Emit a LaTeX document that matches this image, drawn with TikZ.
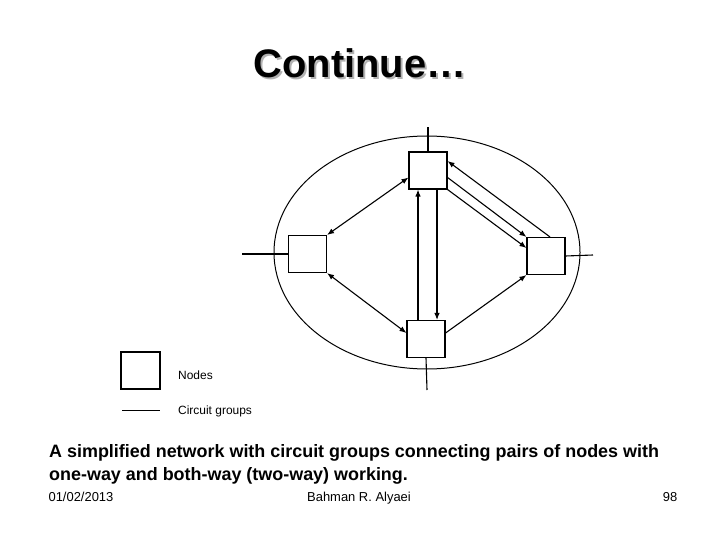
\documentclass[tikz,border=0pt]{standalone}
\usepackage{fontspec}
\setmainfont{Liberation Sans}
\usetikzlibrary{calc,arrows.meta}
\begin{document}
\begin{tikzpicture}[x=1bp,y=-1bp,
  nbox/.style={draw,line width=1.1bp,minimum width=38bp,minimum height=37bp,inner sep=0pt},
  link/.style={line width=1.1bp},
  tip/.style={-{Latex[length=7bp,width=5.5bp]}},
  both/.style={{Latex[length=7bp,width=5.5bp]}-{Latex[length=7bp,width=5.5bp]}},
  caption/.style={font=\fontsize{18}{22}\selectfont\bfseries,anchor=base west,inner sep=0pt},
  foot/.style={font=\fontsize{13}{15}\selectfont,anchor=base,inner sep=0pt}]
\useasboundingbox (0,0) rectangle (720,540);
% title with shadow
\node[font=\fontsize{40}{44}\selectfont\bfseries,anchor=base,inner sep=0pt] (title) at (360,78)
  {\rlap{\kern2bp\raisebox{-2bp}{\color{black!30}Continue…}}Continue…};
% ellipse
\draw[line width=1bp] (427,252.5) ellipse [x radius=153, y radius=116.5];
% nodes
\node[nbox] (T) at (428,170.5) {};
\node[nbox] (L) at (307.5,254) {};
\node[nbox] (R) at (546,256) {};
\node[nbox] (B) at (426,339) {};
% stubs
\coordinate (st) at (428,127);
\coordinate (sb) at (427,390);
\coordinate (sl) at (242,254);
\coordinate (sr) at (593,255);
\draw[link] (T.north) -- (st);
\draw[link] (B.south) -- (sb);
\draw[link] (L.west) -- (sl);
\draw[link] (R.east) -- (sr);
% helper coordinates for the vertical pair
\path ($(T.south)+(-10,0)$) coordinate (u1) ($(T.south)+(9,0)$) coordinate (d1);
% circuit groups
\draw[link,both] ($(T.west)+(0,7)$) -- (L.north east);
\draw[link,both] (L.south east) -- ($(B.west)+(0,-6)$);
\draw[link,tip] (u1 |- B.north) -- (u1);
\draw[link,tip] (d1) -- (d1 |- B.north);
\draw[link,tip] ($(B.east)+(0,-6)$) -- (R.south west);
\draw[link,tip] ($(R.north)+(4,0)$) -- ($(T.east)+(0,-9.5)$);
\draw[link,tip] ($(T.east)+(0,7)$) -- (R.north west);
\draw[link,tip] (T.south east) -- ($(R.west)+(0,-8)$);
% legend
\node[nbox,minimum width=39bp] (lg) at (140.5,370.5) {};
\node[font=\fontsize{12}{14}\selectfont,anchor=west,inner sep=0pt] (lgt) at (178,375) {Nodes};
\coordinate (la) at (122,410);
\coordinate (lb) at (160,410);
\draw[line width=0.9bp] (la) -- (lb);
\node[font=\fontsize{12}{14}\selectfont,anchor=west,inner sep=0pt] (lct) at (178,411) {Circuit groups};
% caption
\node[caption] (c1) at (49,457) {A simplified network with circuit groups connecting pairs of nodes with};
\node[caption] (c2) at (49,480) {one-way and both-way (two-way) working.};
% footer
\node[foot] (f1) at (81,501) {01/02/2013};
\node[foot] (f2) at (359,501) {Bahman R. Alyaei};
\node[foot] (f3) at (670,501) {98};
\end{tikzpicture}
\end{document}
